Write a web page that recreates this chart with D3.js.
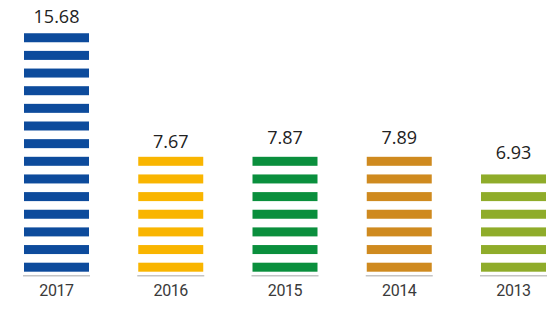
<!DOCTYPE html>
<html>
<head>
<meta charset="utf-8">
<script src="https://cdn.jsdelivr.net/npm/d3@7"></script>
<style>
  html, body { margin: 0; padding: 0; background: #fff; }
  svg { display: block; }
</style>
</head>
<body>
<svg id="chart" width="552" height="320"></svg>
<script>
// Yearly values, newest first
const years  = ["2017", "2016", "2015", "2014", "2013"];
const values = [15.68, 7.67, 7.87, 7.89, 6.93];
const colors = ["#0d4b9c", "#f9b500", "#0a8f3d", "#cf8a1f", "#8fac2a"];

const W = 552, H = 320;
const baseY = 271.7;          // bottom of the lowest stripe
const pxPerUnit = 15.6;
const barW = 65;
const pitch = 17.65;          // stripe spacing
const stripeH = 9;

const svg = d3.select("#chart");

const x = d3.scalePoint().domain(years).range([56.5, 513.5]);
const y = d3.scaleLinear().domain([0, 16]).range([baseY, baseY - 16 * pxPerUnit]);

const data = years.map((yr, i) => ({ year: yr, value: values[i], color: colors[i] }));

const bars = svg.selectAll("g.bar")
  .data(data)
  .join("g")
  .attr("class", "bar")
  .attr("transform", d => `translate(${x(d.year) - barW / 2},0)`);

// each bar is a stack of horizontal stripes, as many as fit its height
bars.each(function (d) {
  const n = Math.round((y(0) - y(d.value)) / pitch);
  d3.select(this).selectAll("rect")
    .data(d3.range(n))
    .join("rect")
    .attr("x", 0)
    .attr("width", barW)
    .attr("y", i => y(0) - i * pitch - stripeH)
    .attr("height", stripeH)
    .attr("fill", d.color);
});

// thin grey base line under each bar
bars.append("line")
  .attr("x1", -1).attr("x2", barW + 1)
  .attr("y1", baseY + 4).attr("y2", baseY + 4)
  .attr("stroke", "#c4c4c4")
  .attr("stroke-width", 1.5);

// value labels
svg.selectAll("text.value")
  .data(data)
  .join("text")
  .attr("class", "value")
  .attr("x", d => x(d.year))
  .attr("y", d => y(d.value) - 4.5)
  .attr("text-anchor", "middle")
  .attr("font-family", "'Open Sans', 'Noto Sans', sans-serif")
  .attr("font-size", 18)
  .attr("fill", "#222")
  .text(d => d.value.toFixed(2));

// year labels
svg.selectAll("text.year")
  .data(data)
  .join("text")
  .attr("class", "year")
  .attr("x", d => x(d.year))
  .attr("y", 296)
  .attr("text-anchor", "middle")
  .attr("font-family", "Roboto, sans-serif")
  .attr("font-size", 16)
  .attr("letter-spacing", -0.4)
  .attr("fill", "#3a3a3a")
  .text(d => d.year);
</script>
</body>
</html>
